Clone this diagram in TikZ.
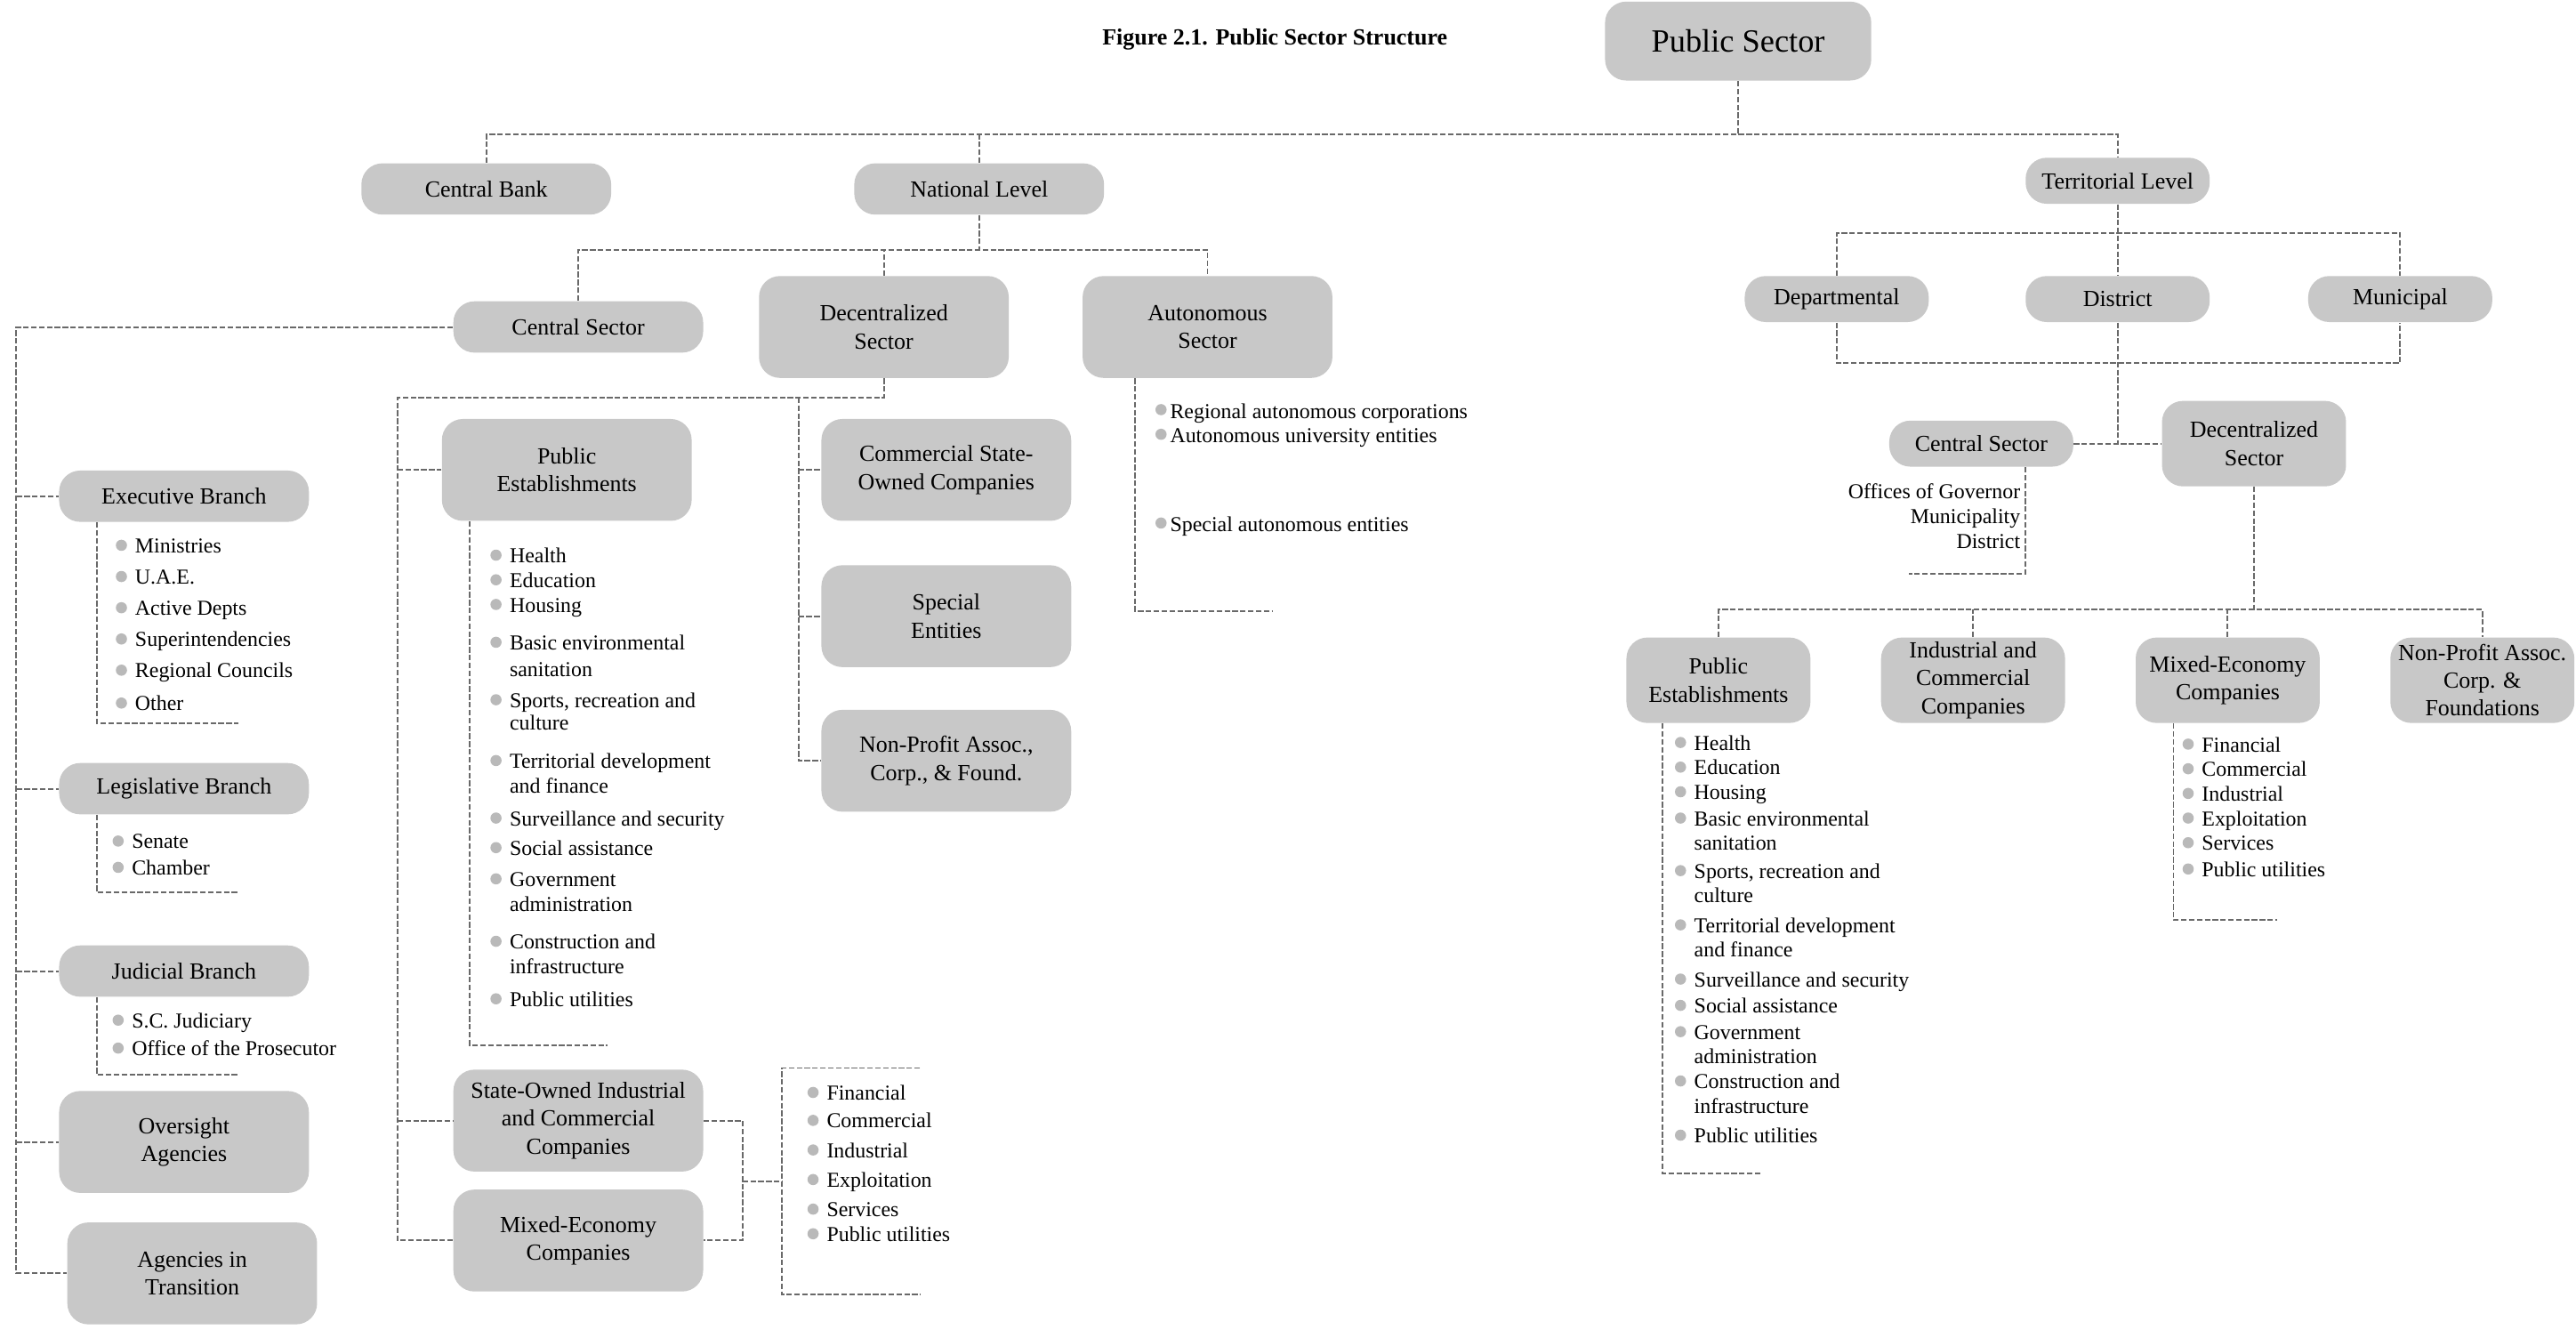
\documentclass[tikz,border=0pt]{standalone}
\usepackage{fontspec}
\setmainfont{Liberation Serif}
\definecolor{boxgray}{RGB}{200,200,200}
\definecolor{dotgray}{RGB}{185,185,185}
\definecolor{linegray}{RGB}{105,105,105}
\begin{document}
\begin{tikzpicture}[x=0.025cm,y=-0.025cm]
    \tikzstyle{box}=[rounded corners=3.2mm,fill=boxgray,align=center,inner sep=0pt,font=\fontsize{10}{12}\selectfont]
    \tikzstyle{pill}=[box,minimum width=3.8cm,minimum height=0.78cm]
    \tikzstyle{tall}=[box,minimum width=3.8cm,minimum height=1.55cm]
    \tikzstyle{spill}=[box,minimum width=2.8cm,minimum height=0.7cm]
    \tikzstyle{stall}=[box,minimum width=2.8cm,minimum height=1.3cm]
    \tikzstyle{link}=[draw=linegray,line width=0.75pt,dash pattern=on 2.4pt off 1pt]
    \tikzstyle{dot}=[circle,fill=dotgray,inner sep=0pt,minimum size=1.7mm]
    \tikzstyle{li}=[anchor=west,inner sep=0pt,text height=7pt,text depth=2pt,font=\fontsize{9.2}{11}\selectfont]
    \tikzstyle{bi}=[li,label={[dot,xshift=-1.1mm,yshift=0.8pt]left:{}}]
    \tikzstyle{ai}=[li,label={[dot,xshift=-0.4mm,yshift=1.2pt]left:{}}]

    \useasboundingbox (0,0) rectangle (1568,809);

    % top
    \node(ttl)[font=\bfseries\fontsize{10}{12}\selectfont] at (776,24) {Figure 2.1. Public Sector Structure};
    \node(ps)[box,minimum width=4.05cm,minimum height=1.2cm,font=\fontsize{14}{16}\selectfont] at (1058,25) {Public Sector};
    \node(cb)[pill] at (296,115) {Central Bank};
    \node(nl)[pill] at (596,115) {National Level};
    \node(tl)[spill] at (1289,110) {Territorial Level};

    % national level
    \node(cs)[pill] at (352,199) {Central Sector};
    \node(ds)[tall] at (538,199) {Decentralized\\Sector};
    \node(as)[tall] at (735,199) {Autonomous\\Sector};
    \node(eb)[pill] at (112,302) {Executive Branch};
    \node(lb)[pill] at (112,480) {Legislative Branch};
    \node(jb)[pill] at (112,591) {Judicial Branch};
    \node(oa)[tall] at (112,695) {Oversight\\Agencies};
    \node(at)[tall] at (117,775) {Agencies in\\Transition};
    \node(pe)[tall] at (345,286) {Public\\Establishments};
    \node(co)[tall] at (576,286) {Commercial State-\\Owned Companies};
    \node(se)[tall] at (576,375) {Special\\Entities};
    \node(np)[tall] at (576,463) {Non-Profit Assoc.,\\Corp., \& Found.};
    \node(so)[tall] at (352,682) {State-Owned Industrial\\and Commercial\\Companies};
    \node(me)[tall] at (352,755) {Mixed-Economy\\Companies};

    % territorial level
    \node(dp)[spill] at (1118,182) {Departmental};
    \node(dt)[spill] at (1289,182) {District};
    \node(mu)[spill] at (1461,182) {Municipal};
    \node(tcs)[spill] at (1206,270) {Central Sector};
    \node(tds)[stall] at (1372,270) {Decentralized\\Sector};
    \node(tcl)[anchor=north east,align=right,inner sep=0pt,font=\fontsize{9.2}{10.8}\selectfont] at (1230,294) {Offices of Governor\\Municipality\\District};
    \node(tpe)[stall] at (1046,414) {Public\\Establishments};
    \node(tic)[stall] at (1201,414) {Industrial and\\Commercial\\Companies};
    \node(tme)[stall] at (1356,414) {Mixed-Economy\\Companies};
    \node(tnp)[stall] at (1511,414) {Non-Profit Assoc.\\Corp. \&\\Foundations};

    % lists
    \foreach \y/\txt [count=\i] in {333/Ministries,352/U.A.E.,371/Active Depts,390/Superintendencies,409/Regional Councils,429/Other}
        \node(ex\i)[bi] at (82,\y) {\txt};
    \foreach \y/\txt [count=\i] in {513/Senate,529/Chamber}
        \node(le\i)[bi] at (80,\y) {\txt};
    \foreach \y/\txt [count=\i] in {622/S.C. Judiciary,639/Office of the Prosecutor}
        \node(ju\i)[bi] at (80,\y) {\txt};
    \foreach \y/\txt [count=\i] in {251/Regional autonomous corporations,266/Autonomous university entities,320/Special autonomous entities}
        \node(au\i)[ai] at (712,\y) {\txt};
    \foreach \y/\txt [count=\i] in {666/Financial,683/Commercial,701/Industrial,719/Exploitation,737/Services,752/Public utilities}
        \node(mx\i)[bi] at (503,\y) {\txt};
    \foreach \y/\txt [count=\i] in {454/Financial,469/Commercial,484/Industrial,499/Exploitation,514/Services,530/Public utilities}
        \node(tmx\i)[bi] at (1340,\y) {\txt};
    \foreach \y/\txt/\st [count=\i] in {339/Health/bi,354/Education/bi,369/Housing/bi,392/Basic environmental/bi,408/sanitation/li,
        427/{Sports, recreation and}/bi,441/culture/li,464/Territorial development/bi,479/and finance/li,
        499/Surveillance and security/bi,517/Social assistance/bi,536/Government/bi,551/administration/li,
        574/Construction and/bi,589/infrastructure/li,609/Public utilities/bi}
        \node(pl\i)[\st] at (310,\y) {\txt};
    \foreach \y/\txt/\st [count=\i] in {453/Health/bi,468/Education/bi,483/Housing/bi,499/Basic environmental/bi,514/sanitation/li,
        531/{Sports, recreation and}/bi,546/culture/li,564/Territorial development/bi,579/and finance/li,
        597/Surveillance and security/bi,613/Social assistance/bi,629/Government/bi,644/administration/li,
        659/Construction and/bi,674/infrastructure/li,692/Public utilities/bi}
        \node(tpl\i)[\st] at (1031,\y) {\txt};

    % connectors, top
    \coordinate (top) at (1058,82);
    \draw[link] (ps) -- (top);
    \draw[link] (cb.north) |- (top) -| (tl.north);
    \draw[link] (nl.north) -- (nl.north |- top);

    % connectors, national level
    \coordinate (nb) at (596,152);
    \draw[link] (nl) -- (nb);
    \draw[link] (cs.north) |- (nb) -| (as.north);
    \draw[link] (ds.north) -- (ds.north |- nb);
    \coordinate (sp) at (10,199);
    \draw[link] (cs) -- (sp) -- (sp |- at.west) -- (at.west);
    \foreach \n in {eb,lb,jb,oa}
        \draw[link] (sp |- \n.west) -- (\n.west);
    \draw[link] (eb.south -| 59,0) |- (145,440);
    \draw[link] (lb.south -| 59,0) |- (145,543);
    \draw[link] (jb.south -| 59,0) |- (145,654);
    \coordinate (dl) at (242,242);
    \coordinate (dr) at (486,242);
    \draw[link] (ds.south) |- (dl) -- (dl |- me.west) -- (me.west);
    \draw[link] (dl |- pe.west) -- (pe.west);
    \draw[link] (dl |- so.west) -- (so.west);
    \draw[link] (dr) |- (np.west);
    \draw[link] (dr |- co.west) -- (co.west);
    \draw[link] (dr |- se.west) -- (se.west);
    \draw[link] (pe.south -| 286,0) |- (370,636);
    \coordinate (mj) at (452,719);
    \draw[link] (so.east) -| (mj) |- (me.east);
    \draw[link] (mj) -- (476,719);
    \draw[link] (560,650) -| (476,788) -- (560,788);
    \draw[link] (as.south -| 691,0) |- (775,372);

    % connectors, territorial level
    \coordinate (rt) at (1289,142);
    \coordinate (rb) at (1289,221);
    \coordinate (tj) at (1289,270);
    \coordinate (tr) at (1372,371);
    \draw[link] (tl) -- (dt);
    \draw[link] (dt) -- (tj);
    \draw[link] (dp.north) |- (rt) -| (mu.north);
    \draw[link] (dp.south) |- (rb) -| (mu.south);
    \draw[link] (tcs) -- (tds);
    \draw[link] (tcs.south -| 1233,0) |- (1162,349);
    \draw[link] (tds) -- (tr);
    \draw[link] (tpe.north) |- (tr) -| (tnp.north);
    \draw[link] (tic.north) -- (tic.north |- tr);
    \draw[link] (tme.north) -- (tme.north |- tr);
    \draw[link] (tpe.south -| 1012,0) |- (1072,714);
    \draw[link] (tme.south -| 1323,0) |- (1386,560);
\end{tikzpicture}
\end{document}
